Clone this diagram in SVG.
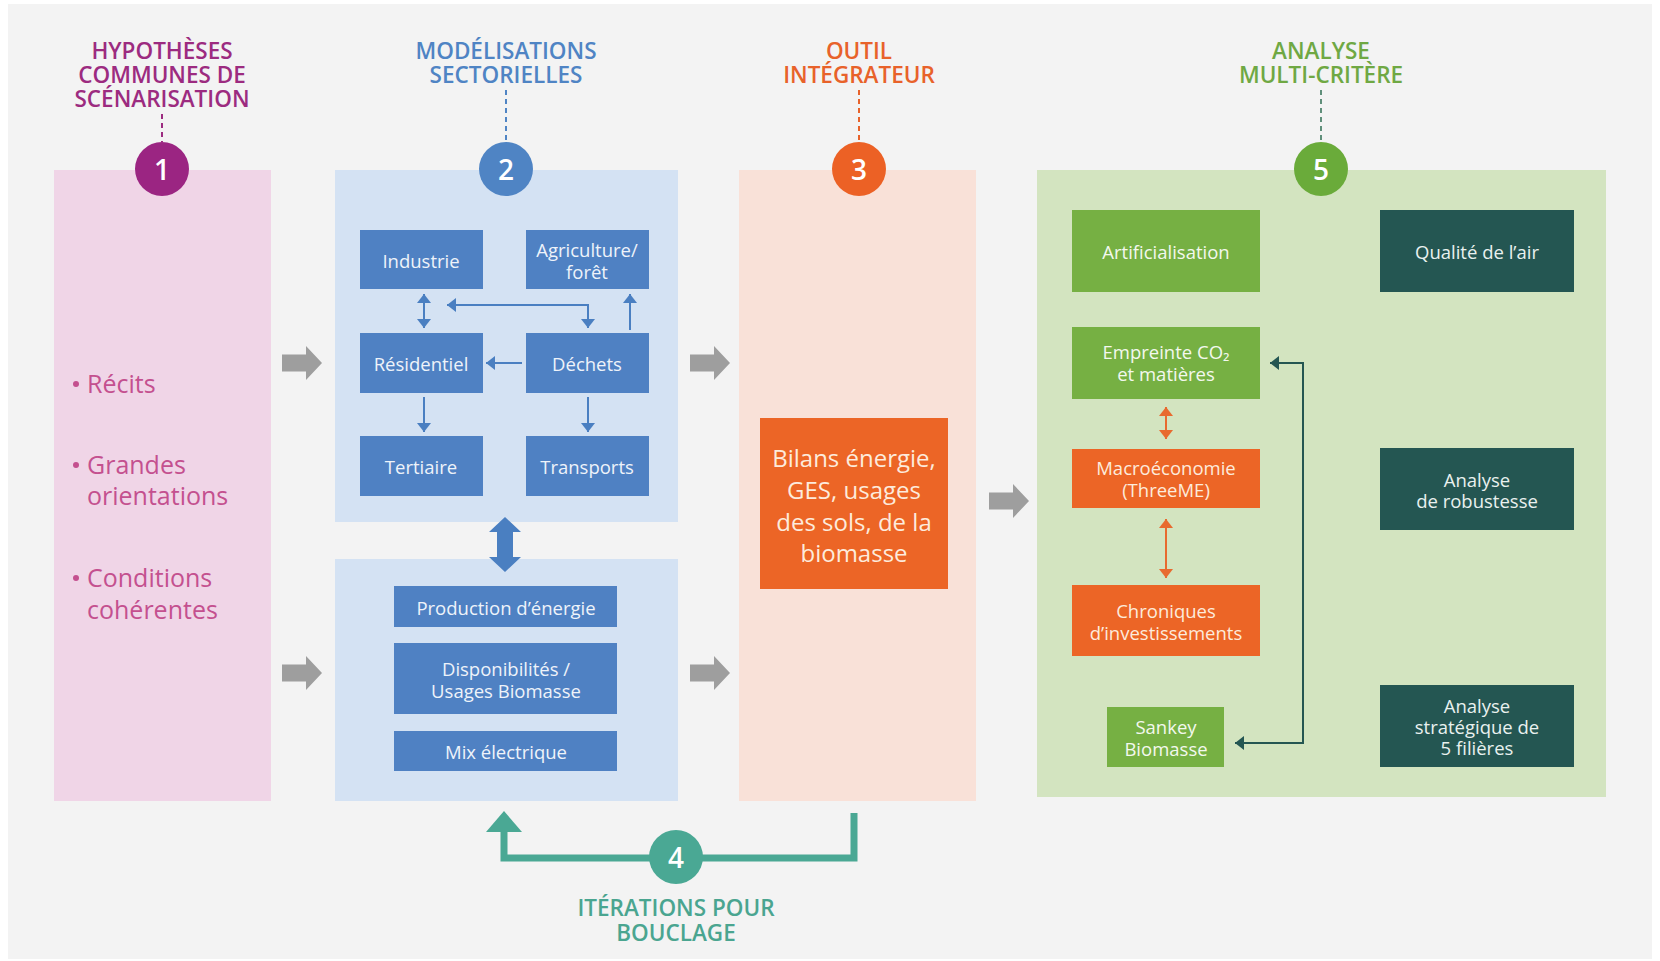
<svg xmlns="http://www.w3.org/2000/svg" width="1660" height="961" viewBox="0 0 1660 961">
<defs>
<style>
text{font-family:"Open Sans","Liberation Sans",sans-serif;text-anchor:middle;dominant-baseline:central}
.title{font-size:22.5px;font-weight:600}
.num{font-size:28px;font-weight:600;fill:#ffffff}
.bx{font-size:18.5px;font-weight:500}
.lst{font-size:25px;font-weight:500;fill:#c4508f;text-anchor:start}
.blue{fill:#4f81c3}
.green{fill:#76b043}
.dark{fill:#245652}
.orange{fill:#ec6526}
.tb{fill:#eef3fa}
.tg{fill:#f3f8ee}
.td{fill:#e9f1ef}
.to{fill:#fdebdc}
.bl{stroke:#4a7fc1;stroke-width:2;fill:none}
.dash{stroke-width:2;stroke-dasharray:5 4;fill:none}
</style>
<marker id="ab" viewBox="0 0 9 14" refX="9" refY="7" markerWidth="9" markerHeight="14" markerUnits="userSpaceOnUse" orient="auto-start-reverse"><path d="M0,0 L9,7 L0,14 Z" fill="#4a7fc1"/></marker>
<marker id="ao" viewBox="0 0 9 14" refX="9" refY="7" markerWidth="9" markerHeight="14" markerUnits="userSpaceOnUse" orient="auto-start-reverse"><path d="M0,0 L9,7 L0,14 Z" fill="#e86a2f"/></marker>
<marker id="ad" viewBox="0 0 9 14" refX="9" refY="7" markerWidth="9" markerHeight="14" markerUnits="userSpaceOnUse" orient="auto-start-reverse"><path d="M0,0 L9,7 L0,14 Z" fill="#245652"/></marker>
<path id="garrow" d="M0,-8.5 H24 V-17 L40,0 L24,17 V8.5 H0 Z" fill="#9e9e9e"/>
</defs>
<rect x="0" y="0" width="1660" height="961" fill="#ffffff"/>
<rect x="8" y="4" width="1644" height="955" fill="#f3f3f3"/>

<!-- Panels -->
<g id="panel1">
<rect x="54" y="170" width="217" height="631" fill="#f0d5e7"/>
<text class="title" x="162" y="50" fill="#9c2b80">HYPOTHÈSES</text>
<text class="title" x="162" y="74" fill="#9c2b80">COMMUNES DE</text>
<text class="title" x="162" y="98" fill="#9c2b80">SCÉNARISATION</text>
<line class="dash" x1="162" y1="114" x2="162" y2="142" stroke="#9c2b80"/>
<circle cx="162" cy="169" r="27" fill="#9b2582"/>
<text class="num" x="162" y="169">1</text>
<circle cx="76" cy="384" r="3" fill="#c4508f"/>
<text class="lst" x="87" y="383">Récits</text>
<circle cx="76" cy="465" r="3" fill="#c4508f"/>
<text class="lst" x="87" y="464">Grandes</text>
<text class="lst" x="87" y="495">orientations</text>
<circle cx="76" cy="578" r="3" fill="#c4508f"/>
<text class="lst" x="87" y="577">Conditions</text>
<text class="lst" x="87" y="609">cohérentes</text>
</g>

<g id="panel2">
<rect x="335" y="170" width="343" height="352" fill="#d4e2f3"/>
<rect x="335" y="559" width="343" height="242" fill="#d4e2f3"/>
<text class="title" x="506" y="50" fill="#4f84c4">MODÉLISATIONS</text>
<text class="title" x="506" y="74" fill="#4f84c4">SECTORIELLES</text>
<line class="dash" x1="506" y1="90" x2="506" y2="142" stroke="#4f84c4"/>
<circle cx="506" cy="169" r="27" fill="#4f84c4"/>
<text class="num" x="506" y="169">2</text>
</g>

<g id="panel3">
<rect x="739" y="170" width="237" height="631" fill="#f9e1d8"/>
<text class="title" x="859" y="50" fill="#e8622a">OUTIL</text>
<text class="title" x="859" y="74" fill="#e8622a">INTÉGRATEUR</text>
<line class="dash" x1="859" y1="90" x2="859" y2="142" stroke="#e8622a"/>
<circle cx="859" cy="169" r="27" fill="#ec6125"/>
<text class="num" x="859" y="169">3</text>
</g>

<g id="panel5">
<rect x="1037" y="170" width="569" height="627" fill="#d3e4c0"/>
<text class="title" x="1321" y="50" fill="#6fa843">ANALYSE</text>
<text class="title" x="1321" y="74" fill="#6fa843">MULTI-CRITÈRE</text>
<line class="dash" x1="1321" y1="90" x2="1321" y2="142" stroke="#5f8f7a"/>
<circle cx="1321" cy="169" r="27" fill="#6aab3a"/>
<text class="num" x="1321" y="169">5</text>
</g>

<!-- Sector nodes -->
<g id="industrie"><rect class="blue" x="360" y="230" width="123" height="59"/><text class="bx tb" x="421" y="260">Industrie</text></g>
<g id="agriculture"><rect class="blue" x="526" y="230" width="123" height="59"/><text class="bx tb" x="587" y="249">Agriculture/</text><text class="bx tb" x="587" y="271">forêt</text></g>
<g id="residentiel"><rect class="blue" x="360" y="333" width="123" height="60"/><text class="bx tb" x="421" y="363">Résidentiel</text></g>
<g id="dechets"><rect class="blue" x="526" y="333" width="123" height="60"/><text class="bx tb" x="587" y="363">Déchets</text></g>
<g id="tertiaire"><rect class="blue" x="360" y="436" width="123" height="60"/><text class="bx tb" x="421" y="466">Tertiaire</text></g>
<g id="transports"><rect class="blue" x="526" y="436" width="123" height="60"/><text class="bx tb" x="587" y="466">Transports</text></g>
<g id="production"><rect class="blue" x="394" y="586" width="223" height="41"/><text class="bx tb" x="506" y="607">Production d’énergie</text></g>
<g id="biomasse"><rect class="blue" x="394" y="643" width="223" height="71"/><text class="bx tb" x="506" y="668">Disponibilités /</text><text class="bx tb" x="506" y="690">Usages Biomasse</text></g>
<g id="mix"><rect class="blue" x="394" y="731" width="223" height="40"/><text class="bx tb" x="506" y="751">Mix électrique</text></g>

<g id="bilans"><rect class="orange" x="760" y="418" width="188" height="171"/>
<text x="854" y="457" style="font-size:24px;font-weight:500" class="to">Bilans énergie,</text>
<text x="854" y="489" style="font-size:24px;font-weight:500" class="to">GES, usages</text>
<text x="854" y="521" style="font-size:24px;font-weight:500" class="to">des sols, de la</text>
<text x="854" y="552" style="font-size:24px;font-weight:500" class="to">biomasse</text>
</g>

<g id="artificialisation"><rect class="green" x="1072" y="210" width="188" height="82"/><text class="bx tg" x="1166" y="251">Artificialisation</text></g>
<g id="empreinte"><rect class="green" x="1072" y="327" width="188" height="72"/><text class="bx tg" x="1166" y="351">Empreinte CO₂</text><text class="bx tg" x="1166" y="373">et matières</text></g>
<g id="macro"><rect class="orange" x="1072" y="449" width="188" height="59"/><text class="bx to" x="1166" y="467">Macroéconomie</text><text class="bx to" x="1166" y="489">(ThreeME)</text></g>
<g id="chroniques"><rect class="orange" x="1072" y="585" width="188" height="71"/><text class="bx to" x="1166" y="610">Chroniques</text><text class="bx to" x="1166" y="632">d’investissements</text></g>
<g id="sankey"><rect class="green" x="1107" y="707" width="117" height="60"/><text class="bx tg" x="1166" y="726">Sankey</text><text class="bx tg" x="1166" y="748">Biomasse</text></g>
<g id="qualite"><rect class="dark" x="1380" y="210" width="194" height="82"/><text class="bx td" x="1477" y="251">Qualité de l’air</text></g>
<g id="robustesse"><rect class="dark" x="1380" y="448" width="194" height="82"/><text class="bx td" x="1477" y="479">Analyse</text><text class="bx td" x="1477" y="500">de robustesse</text></g>
<g id="strategique"><rect class="dark" x="1380" y="685" width="194" height="82"/><text class="bx td" x="1477" y="705">Analyse</text><text class="bx td" x="1477" y="726">stratégique de</text><text class="bx td" x="1477" y="747">5 filières</text></g>

<!-- Connectors -->
<g id="connectors">
<use href="#garrow" x="282" y="363"/>
<use href="#garrow" x="282" y="673"/>
<use href="#garrow" x="690" y="363"/>
<use href="#garrow" x="690" y="673"/>
<use href="#garrow" x="989" y="501"/>
<path class="bl" d="M424,294 V328" marker-start="url(#ab)" marker-end="url(#ab)"/>
<path class="bl" d="M447,305 H588 V328" marker-start="url(#ab)" marker-end="url(#ab)"/>
<path class="bl" d="M630,330 V294" marker-end="url(#ab)"/>
<path class="bl" d="M522,363 H486" marker-end="url(#ab)"/>
<path class="bl" d="M424,397 V432" marker-end="url(#ab)"/>
<path class="bl" d="M588,397 V432" marker-end="url(#ab)"/>
<polygon points="505,517 521,532 513,532 513,557 521,557 505,572 489,557 497,557 497,532 489,532" fill="#4a7fc1"/>
<path d="M1166,407 V439" stroke="#e86a2f" stroke-width="2" fill="none" marker-start="url(#ao)" marker-end="url(#ao)"/>
<path d="M1166,519 V578" stroke="#e86a2f" stroke-width="2" fill="none" marker-start="url(#ao)" marker-end="url(#ao)"/>
<path d="M1270,363 H1303 V743 H1235" stroke="#245652" stroke-width="2" fill="none" marker-start="url(#ad)" marker-end="url(#ad)"/>
<path d="M854,813 V858 H504 V830" stroke="#4aa894" stroke-width="7" fill="none"/>
<polygon points="504,811 522,832 486,832" fill="#4aa894"/>
</g>

<g id="iteration">
<circle cx="676" cy="857" r="27" fill="#4aa894"/>
<text class="num" x="676" y="857">4</text>
<text class="title" x="676" y="907" fill="#4aa590">ITÉRATIONS POUR</text>
<text class="title" x="676" y="932" fill="#4aa590">BOUCLAGE</text>
</g>
</svg>
